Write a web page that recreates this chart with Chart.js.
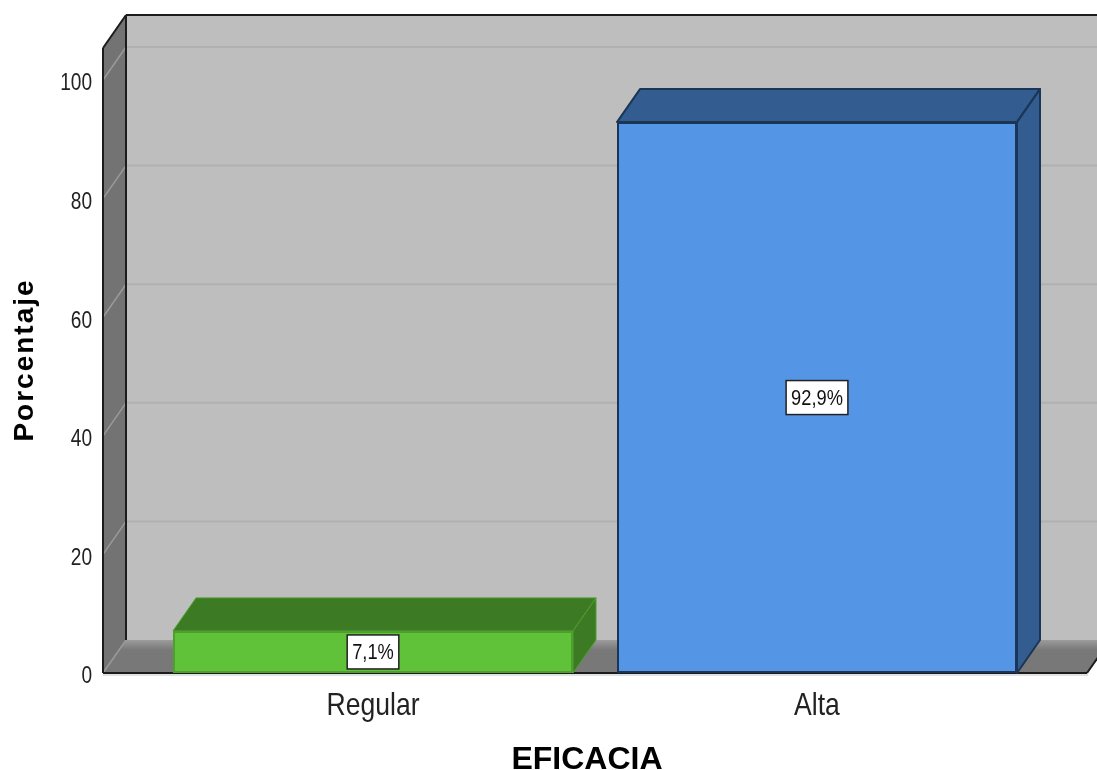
<!DOCTYPE html>
<html lang="es">
  <head>
    <meta charset="UTF-8" />
    <title>EFICACIA</title>
    <script src="https://cdn.jsdelivr.net/npm/chart.js"></script>
    <style>
      body { margin: 0; background: #fff; }
      canvas { display: block; filter: blur(0.4px); }
    </style>
  </head>
  <body>
    <canvas id="barChart" width="1097" height="770"></canvas>
    <script>
      // datos
      const categorias = ["Regular", "Alta"];
      const porcentajes = [7.1, 92.9];
      const etiquetas = ["7,1%", "92,9%"];
      const marcasY = [0, 20, 40, 60, 80, 100];
      const tituloX = "EFICACIA";
      const tituloY = "Porcentaje";

      const coloresFrente = ["#5fc238", "#5595e6"];
      const coloresLado = ["#3c7a23", "#335c90"];
      const coloresBorde = ["#4f9f30", "#1b3557"];

      // profundidad del efecto 3D
      const DX = 23;
      const DY = -33;
      const EXTRA = 48;
      const ANGOSTO = 0.83;

      const ctx0 = document.getElementById("barChart").getContext("2d");

      // el texto del original esta angosto: fillText con maxWidth lo comprime
      const fillOriginal = ctx0.fillText.bind(ctx0);
      ctx0.fillText = (t, x, y, mw) =>
        fillOriginal(t, x, ctx0.textAlign === "right" ? y + 4 : y, mw || ctx0.measureText(t).width * ANGOSTO);

      function poly(ctx, pts, fill, stroke, lw) {
        ctx.beginPath();
        pts.forEach((p, i) => (i ? ctx.lineTo(p[0], p[1]) : ctx.moveTo(p[0], p[1])));
        ctx.closePath();
        if (fill) {
          ctx.fillStyle = fill;
          ctx.fill();
        }
        if (stroke) {
          ctx.strokeStyle = stroke;
          ctx.lineWidth = lw || 2;
          ctx.lineJoin = "round";
          ctx.stroke();
        }
      }

      function linea(ctx, x1, y1, x2, y2, color, lw) {
        ctx.beginPath();
        ctx.moveTo(x1, y1);
        ctx.lineTo(x2, y2);
        ctx.strokeStyle = color;
        ctx.lineWidth = lw;
        ctx.stroke();
      }

      // paredes, piso y lineas de la grilla
      const paredes = {
        id: "paredes",
        beforeDatasetsDraw(chart) {
          const { ctx, chartArea, scales } = chart;
          const izq = chartArea.left - EXTRA;
          const der = chartArea.right + EXTRA;
          const base = chartArea.bottom;
          const arriba = chartArea.top;
          ctx.save();
          // pared del fondo
          poly(ctx, [[izq + DX, arriba + DY], [der + DX, arriba + DY], [der + DX, base + DY], [izq + DX, base + DY]], "#bebebe");
          // piso
          const g = ctx.createLinearGradient(0, base + DY, 0, base + DY + 10);
          g.addColorStop(0, "#9c9c9c");
          g.addColorStop(1, "#787878");
          poly(ctx, [[izq + DX, base + DY], [der + DX, base + DY], [der, base], [izq, base]], g);
          // pared izquierda
          poly(ctx, [[izq, arriba], [izq + DX, arriba + DY], [izq + DX, base + DY], [izq, base]], "#737373");
          // grilla
          marcasY.forEach((v) => {
            const y = scales.y.getPixelForValue(v);
            linea(ctx, izq, y, izq + DX, y + DY, "#9a9a9a", 1.5);
            if (v > 0) linea(ctx, izq + DX, y + DY, der + DX, y + DY, "#b0b0b0", 2);
          });
          // bordes negros
          linea(ctx, izq, base, izq, arriba, "#1c1c1c", 2);
          linea(ctx, izq, arriba, izq + DX, arriba + DY, "#1c1c1c", 2);
          linea(ctx, izq + DX, arriba + DY, der + DX, arriba + DY, "#1c1c1c", 2);
          linea(ctx, izq + DX, arriba + DY, izq + DX, base + DY, "#1c1c1c", 2);
          linea(ctx, izq, base, der, base, "#1c1c1c", 2);
          linea(ctx, der, base, der + DX, base + DY, "#1c1c1c", 2);
          linea(ctx, izq, base + 2, der + 1, base + 2, "#c4c4c4", 1);
          // caras laterales y superiores de las barras
          chart.getDatasetMeta(0).data.forEach((bar, i) => {
            const l = bar.x - bar.width / 2;
            const r = bar.x + bar.width / 2;
            const lw = i === 0 ? 1 : 2;
            poly(ctx, [[l, bar.y], [l + DX, bar.y + DY], [r + DX, bar.y + DY], [r, bar.y]], coloresLado[i], coloresBorde[i], lw);
            poly(ctx, [[r, bar.y], [r + DX, bar.y + DY], [r + DX, bar.base + DY], [r, bar.base]], coloresLado[i], coloresBorde[i], lw);
          });
          ctx.restore();
        },
        afterDatasetsDraw(chart) {
          const { ctx } = chart;
          ctx.save();
          ctx.font = '22px "Liberation Sans"';
          ctx.textAlign = "center";
          ctx.textBaseline = "middle";
          chart.getDatasetMeta(0).data.forEach((bar, i) => {
            const y = (bar.y + bar.base) / 2;
            const w = ctx.measureText(etiquetas[i]).width * ANGOSTO + 10;
            ctx.fillStyle = "#fff";
            ctx.fillRect(bar.x - w / 2, y - 17, w, 34);
            ctx.strokeStyle = "#222";
            ctx.lineWidth = 1.5;
            ctx.strokeRect(bar.x - w / 2, y - 17, w, 34);
            ctx.fillStyle = "#111";
            ctx.fillText(etiquetas[i], bar.x, y + 1);
          });
          // titulos de los ejes
          ctx.fillStyle = "#000";
          ctx.textBaseline = "alphabetic";
          ctx.font = 'bold 32px "Liberation Sans"';
          ctx.fillText(tituloX, 587, 769, 9999);
          ctx.translate(33, 360);
          ctx.rotate(-Math.PI / 2);
          ctx.font = 'bold 28px "Liberation Sans"';
          ctx.letterSpacing = "2px";
          ctx.fillText(tituloY, 0, 0, 9999);
          ctx.restore();
        },
      };

      new Chart(ctx0, {
        type: "bar",
        data: {
          labels: categorias,
          datasets: [
            {
              data: porcentajes,
              backgroundColor: coloresFrente,
              borderColor: coloresBorde,
              borderWidth: 2,
              borderSkipped: false,
              barPercentage: 400 / 444,
              categoryPercentage: 1,
            },
          ],
        },
        options: {
          responsive: false,
          animation: false,
          layout: { padding: { top: 48, right: 58 } },
          plugins: { legend: { display: false }, tooltip: { enabled: false } },
          scales: {
            x: {
              afterFit: (s) => { s.height = 97; s.paddingLeft = 0; s.paddingRight = 0; },
              grid: { display: false },
              border: { display: false },
              ticks: {
                color: "#222",
                padding: 6,
                font: { family: '"Liberation Sans"', size: 32 },
              },
            },
            y: {
              min: 0,
              max: 105.4,
              afterFit: (s) => { s.width = 151; s.paddingTop = 0; s.paddingBottom = 0; },
              afterBuildTicks: (s) => { s.ticks = marcasY.map((v) => ({ value: v })); },
              grid: { display: false },
              border: { display: false },
              ticks: {
                color: "#222",
                padding: 51,
                font: { family: '"Liberation Sans"', size: 23 },
              },
            },
          },
        },
        plugins: [paredes],
      });
    </script>
  </body>
</html>
